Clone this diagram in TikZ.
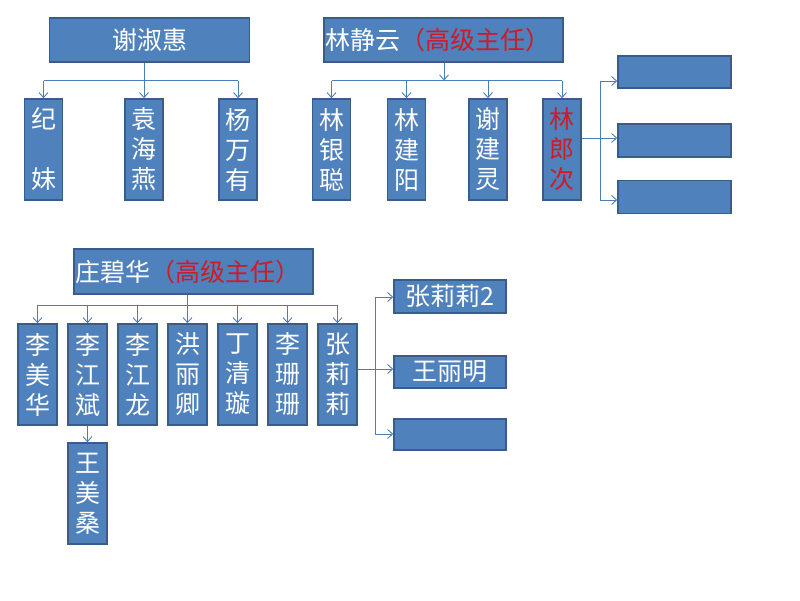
\documentclass[tikz,border=0pt]{standalone}
\usepackage{fontspec}
\newfontfamily\cjk{Noto Sans CJK SC}
\usetikzlibrary{arrows.meta}
\definecolor{boxfill}{HTML}{4F81BD}
\definecolor{boxdraw}{HTML}{385D8A}
\definecolor{conn}{HTML}{4A7EBB}
\definecolor{redtxt}{HTML}{D01A24}
\begin{document}
\begin{tikzpicture}[x=1pt,y=-1pt,
 box/.style={draw=boxdraw, fill=boxfill, line width=1.6pt, inner sep=0pt, text=white,
   font=\cjk\fontsize{25}{30}\selectfont, align=center},
 tall/.style={box, minimum width=38pt, minimum height=101pt},
 side/.style={box, minimum width=112pt, minimum height=33pt},
 conline/.style={draw=conn, line width=0.9pt},
 arr/.style={conline, -{Straight Barb[length=5pt,width=9pt]}}]
\useasboundingbox (0,0) rectangle (800,600);

% ---- group 1
\node[box, minimum width=200pt, minimum height=44pt] (A) at (149.5,40) {谢淑惠};
\node[tall] (a1) at (43.5,149.5) {纪\\\mbox{}\\妹};
\node[tall] (a2) at (144,149.5) {袁\\海\\燕};
\node[tall] (a3) at (238,149.5) {杨\\万\\有};
\coordinate (hA) at (144,80.5);
\draw[arr] (a2.north |- A.south) -- (a2.north);
\draw[conline] (a1.north |- hA) -- (a3.north |- hA);
\draw[arr] (a1.north |- hA) -- (a1.north);
\draw[arr] (a3.north |- hA) -- (a3.north);

% ---- group 2
\node[box, minimum width=239pt, minimum height=44pt] (B) at (443.5,40) {};
\node[font=\cjk\fontsize{25}{30}\selectfont, text=white, inner sep=0pt, anchor=west] (Bt) at (325.5,40) {林静云\textcolor{redtxt}{（高级主任）}};
\node[tall] (b1) at (331.5,149.5) {林\\银\\聪};
\node[tall] (b2) at (406.5,149.5) {林\\建\\阳};
\node[tall] (b3) at (488,149.5) {谢\\建\\灵};
\node[tall, text=redtxt] (b4) at (562,149.5) {林\\郎\\次};
\coordinate (hB) at (444,80.5);
\draw[arr] (B.south -| hB) -- (hB);
\draw[conline] (b1.north |- hB) -- (b4.north |- hB);
\foreach \n in {b1,b2,b3,b4} \draw[arr] (\n.north |- hB) -- (\n.north);

\node[side, minimum width=113pt, minimum height=32pt] (r1) at (674.5,72) {};
\node[side, minimum width=113pt] (r2) at (674.5,140.5) {};
\node[side, minimum width=113pt] (r3) at (674.5,197) {};
\coordinate (vB) at (600,138);
\coordinate (vB1) at (600,81);
\coordinate (vB3) at (600,200);
\draw[conline] (b4.east |- vB) -- (vB);
\draw[conline] (vB1) -- (vB3);
\draw[arr] (vB1) -- (r1.west |- vB1);
\draw[arr] (vB) -- (r2.west |- vB);
\draw[arr] (vB3) -- (r3.west |- vB3);

% ---- group 3
\node[box, minimum width=239pt, minimum height=45pt] (C) at (193.5,271.5) {};
\node[font=\cjk\fontsize{25}{30}\selectfont, text=white, inner sep=0pt, anchor=west] (Ct) at (75,271.5) {庄碧华\textcolor{redtxt}{（高级主任）}};
\node[tall, minimum width=39pt] (c1) at (37.5,374.5) {李\\美\\华};
\node[tall, minimum width=39pt] (c2) at (87.5,374.5) {李\\江\\斌};
\node[tall, minimum width=39pt] (c3) at (137.5,374.5) {李\\江\\龙};
\node[tall, minimum width=39pt] (c4) at (187.5,374.5) {洪\\丽\\卿};
\node[tall, minimum width=39pt] (c5) at (237.5,374.5) {丁\\清\\璇};
\node[tall, minimum width=39pt] (c6) at (287.5,374.5) {李\\珊\\珊};
\node[tall, minimum width=39pt] (c7) at (337.5,374.5) {张\\莉\\莉};
\node[tall, minimum width=39pt] (c8) at (87.5,493.5) {王\\美\\桑};
\coordinate (hC) at (188,305);
\draw[arr] (c4.north |- C.south) -- (c4.north);
\draw[conline] (c1.north |- hC) -- (c7.north |- hC);
\foreach \n in {c1,c2,c3,c5,c6,c7} \draw[arr] (\n.north |- hC) -- (\n.north);
\draw[arr] (c2.south) -- (c8.north);

\node[side] (d1) at (450,296.5) {张莉莉2};
\node[side, minimum height=32pt] (d2) at (450,372) {王丽明};
\node[side, minimum height=31pt] (d3) at (450,434.5) {};
\coordinate (vC) at (375,369);
\coordinate (vC1) at (375,297);
\coordinate (vC3) at (375,434);
\draw[conline] (c7.east |- vC) -- (vC);
\draw[conline] (vC1) -- (vC3);
\draw[arr] (vC1) -- (d1.west |- vC1);
\draw[arr] (vC) -- (d2.west |- vC);
\draw[arr] (vC3) -- (d3.west |- vC3);
\end{tikzpicture}
\end{document}
